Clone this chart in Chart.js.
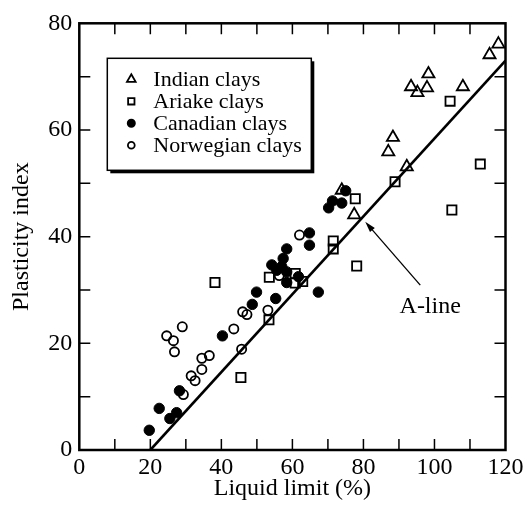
<!DOCTYPE html>
<html><head><meta charset="utf-8">
<script src="https://cdn.jsdelivr.net/npm/chart.js@4.4.0/dist/chart.umd.min.js"></script>
<style>html,body{margin:0;padding:0;background:#fff}</style>
</head><body>
<canvas id="c" width="528" height="511" style="width:528px;height:511px;display:block"></canvas>
<script>
// ---- data ----
const X_LABELS = [0, 20, 40, 60, 80, 100, 120];
const Y_LABELS = [0, 20, 40, 60, 80];
const indianLL = [118.0, 115.5, 98.3, 93.4, 95.2, 97.9, 108.0, 88.3, 87.0, 92.2, 73.9, 77.4];
const indianPI = [76.1, 74.1, 70.5, 68.1, 67.0, 67.9, 68.1, 58.6, 55.9, 53.1, 48.7, 44.1];
const ariakeLL = [104.4, 112.9, 104.9, 88.9, 77.7, 71.5, 71.5, 78.1, 38.2, 53.5, 60.8, 60.8, 62.9, 53.4, 45.5];
const ariakePI = [65.4, 53.6, 45.0, 50.3, 47.1, 39.2, 37.7, 34.5, 31.4, 32.4, 33.1, 31.3, 31.6, 24.4, 13.6];
const canadianLL = [19.7, 22.5, 25.5, 27.4, 28.2, 40.3, 48.7, 49.9, 55.3, 54.2, 55.6, 57.0, 57.4, 58.4, 58.4, 58.4, 61.7, 64.8, 64.8, 67.3, 70.2, 71.3, 73.9, 75.0];
const canadianPI = [3.7, 7.8, 5.9, 7.0, 11.1, 21.4, 27.3, 29.6, 28.4, 34.7, 33.7, 34.4, 35.9, 37.7, 33.4, 31.4, 32.5, 40.7, 38.4, 29.6, 45.4, 46.7, 46.3, 48.6];
const norwegianLL = [24.6, 26.5, 26.8, 29.0, 29.3, 31.5, 32.6, 34.5, 34.5, 36.6, 43.5, 45.7, 46.0, 47.2, 53.1, 56.3, 62.0];
const norwegianPI = [21.4, 20.5, 18.4, 23.1, 10.4, 13.9, 13.0, 17.2, 15.1, 17.7, 22.7, 18.9, 25.9, 25.4, 26.2, 32.7, 40.3];
const aLineLL = [20, 120];
const aLinePI = [0, 73];
const arrowFrom = [96.0, 30.9];
const arrowTo = [80.5, 42.8];
const aLineLabelAt = [98.8, 26.8];
const seriesNames = ['Indian clays', 'Ariake clays', 'Canadian clays', 'Norwegian clays'];

const pts = (xs, ys) => xs.map((x, i) => ({x: x, y: ys[i]}));
const SERIF = "'Liberation Serif', 'Times New Roman', 'DejaVu Serif', serif";

const frameTicks = {
  id: 'frameTicks',
  afterDraw(chart) {
    const {ctx, chartArea: a, scales} = chart;
    ctx.save();
    ctx.strokeStyle = '#000';
    ctx.lineWidth = 1.5;
    const L = 11;
    scales.x.ticks.forEach(t => {
      const v = t.value;
      if (v <= scales.x.min || v >= scales.x.max) return;
      const px = scales.x.getPixelForValue(v);
      ctx.beginPath();
      ctx.moveTo(px, a.bottom); ctx.lineTo(px, a.bottom - L);
      ctx.moveTo(px, a.top); ctx.lineTo(px, a.top + L);
      ctx.stroke();
    });
    scales.y.ticks.forEach(t => {
      const v = t.value;
      if (v <= scales.y.min || v >= scales.y.max) return;
      const py = scales.y.getPixelForValue(v);
      ctx.beginPath();
      ctx.moveTo(a.left, py); ctx.lineTo(a.left + L, py);
      ctx.moveTo(a.right, py); ctx.lineTo(a.right - L, py);
      ctx.stroke();
    });
    ctx.lineWidth = 2.5;
    ctx.strokeRect(a.left, a.top, a.right - a.left, a.bottom - a.top);

    // arrow + label
    const x1 = scales.x.getPixelForValue(arrowFrom[0]), y1 = scales.y.getPixelForValue(arrowFrom[1]);
    const x2 = scales.x.getPixelForValue(arrowTo[0]), y2 = scales.y.getPixelForValue(arrowTo[1]);
    const ang = Math.atan2(y2 - y1, x2 - x1);
    const hl = 11, hw = 3.2;
    ctx.lineWidth = 1.3;
    ctx.beginPath();
    ctx.moveTo(x1, y1);
    ctx.lineTo(x2 - Math.cos(ang) * hl * 0.8, y2 - Math.sin(ang) * hl * 0.8);
    ctx.stroke();
    ctx.fillStyle = '#000';
    ctx.beginPath();
    ctx.moveTo(x2, y2);
    ctx.lineTo(x2 - Math.cos(ang) * hl - Math.sin(ang) * hw, y2 - Math.sin(ang) * hl + Math.cos(ang) * hw);
    ctx.lineTo(x2 - Math.cos(ang) * hl + Math.sin(ang) * hw, y2 - Math.sin(ang) * hl - Math.cos(ang) * hw);
    ctx.closePath();
    ctx.fill();
    ctx.font = '24px ' + SERIF;
    ctx.textAlign = 'center';
    ctx.textBaseline = 'middle';
    ctx.fillText('A-line', scales.x.getPixelForValue(aLineLabelAt[0]), scales.y.getPixelForValue(aLineLabelAt[1]));

    // legend
    const bx = a.left + 28, by = a.top + 35, bw = 204, bh = 112;
    ctx.fillStyle = '#000';
    ctx.fillRect(bx + 3, by + 3, bw, bh);
    ctx.fillStyle = '#fff';
    ctx.fillRect(bx, by, bw, bh);
    ctx.lineWidth = 1.5;
    ctx.strokeStyle = '#000';
    ctx.strokeRect(bx, by, bw, bh);
    const styles = ['triangle', 'rect', 'circle', 'circle'];
    const radii = [5, 4.5, 3.6, 3.4];
    const fills = [null, null, '#000', null];
    ctx.font = '22px ' + SERIF;
    ctx.textAlign = 'left';
    ctx.textBaseline = 'middle';
    seriesNames.forEach((name, i) => {
      const cy = by + 21 + i * 22;
      const mx = bx + 24;
      ctx.lineWidth = 1.8;
      ctx.strokeStyle = '#000';
      ctx.fillStyle = fills[i] || 'rgba(0,0,0,0)';
      Chart.helpers.drawPoint(ctx, {pointStyle: styles[i], radius: radii[i], borderWidth: 1.8, rotation: 0}, mx, cy);
      ctx.fillStyle = '#000';
      ctx.fillText(name, bx + 46, cy + 1);
    });
    ctx.restore();
  }
};

const open = 'rgba(0,0,0,0)';
new Chart(document.getElementById('c'), {
  type: 'scatter',
  data: {
    datasets: [
      {type: 'line', label: 'A-line', data: pts(aLineLL, aLinePI), borderColor: '#000', borderWidth: 2.6, pointRadius: 0, fill: false, order: 5},
      {label: seriesNames[0], data: pts(indianLL, indianPI), pointStyle: 'triangle', pointRadius: 7, borderColor: '#000', backgroundColor: open, pointBorderWidth: 1.8, order: 4},
      {label: seriesNames[1], data: pts(ariakeLL, ariakePI), pointStyle: 'rect', pointRadius: 6.5, borderColor: '#000', backgroundColor: open, pointBorderWidth: 1.8, order: 3},
      {label: seriesNames[2], data: pts(canadianLL, canadianPI), pointStyle: 'circle', pointRadius: 5.2, borderColor: '#000', backgroundColor: '#000', pointBorderWidth: 1, order: 2},
      {label: seriesNames[3], data: pts(norwegianLL, norwegianPI), pointStyle: 'circle', pointRadius: 4.6, borderColor: '#000', backgroundColor: open, pointBorderWidth: 1.8, order: 1}
    ]
  },
  options: {
    responsive: false,
    animation: false,
    events: [],
    layout: {padding: {left: 0, right: 22.5, top: 23.3, bottom: 0}},
    plugins: {legend: {display: false}, tooltip: {enabled: false}},
    scales: {
      x: {
        type: 'linear', min: 0, max: 120,
        grid: {display: false, drawTicks: false},
        border: {display: false},
        ticks: {stepSize: 10, autoSkip: false, maxRotation: 0, padding: 3, color: '#000',
          font: {family: SERIF, size: 24},
          callback: v => X_LABELS.includes(v) ? String(v) : ''},
        title: {display: true, text: 'Liquid limit (%)', color: '#000', font: {family: SERIF, size: 24}, padding: {top: 0, bottom: 8}},
        afterFit: s => { s.height = 61; }
      },
      y: {
        type: 'linear', min: 0, max: 80,
        grid: {display: false, drawTicks: false},
        border: {display: false},
        ticks: {stepSize: 10, autoSkip: false, padding: 7, color: '#000',
          font: {family: SERIF, size: 24},
          callback: v => Y_LABELS.includes(v) ? String(v) : ''},
        title: {display: true, text: 'Plasticity index', color: '#000', font: {family: SERIF, size: 24}, padding: {top: 7, bottom: 0}},
        afterFit: s => { s.width = 79.3; }
      }
    }
  },
  plugins: [frameTicks]
});
</script>
</body></html>
